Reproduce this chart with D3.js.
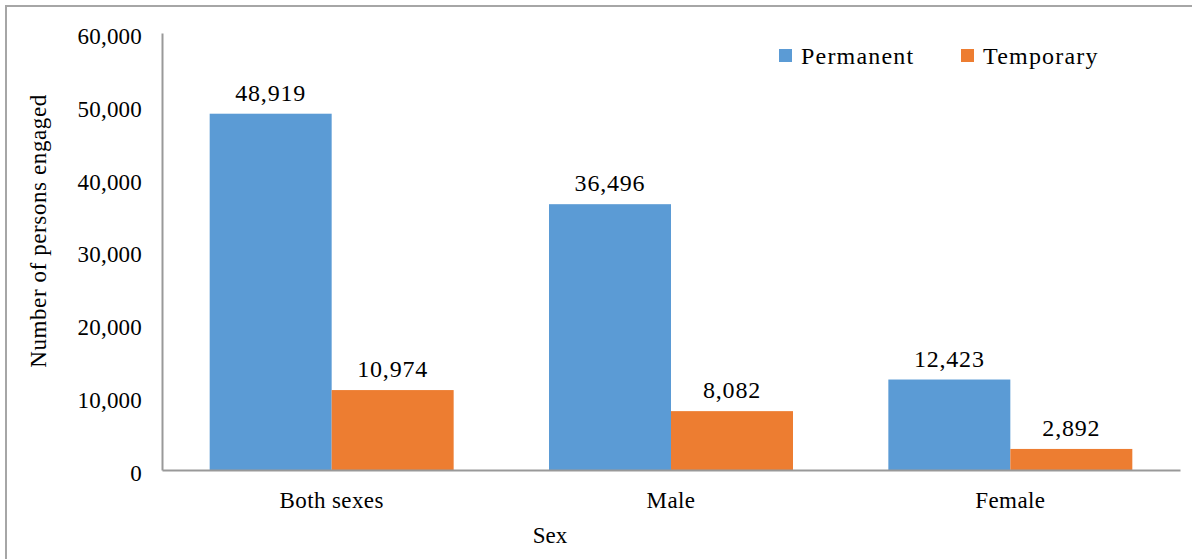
<!DOCTYPE html>
<html>
<head>
<meta charset="utf-8">
<script src="https://cdn.jsdelivr.net/npm/d3@7/dist/d3.min.js"></script>
<style>
  html, body { margin: 0; padding: 0; background: #fff; }
  svg { display: block; }
</style>
</head>
<body>
<svg id="chart" width="1192" height="559" style="font-family:'Liberation Serif', serif"></svg>
<script>
// Persons engaged by sex and type of engagement
const categories = ["Both sexes", "Male", "Female"];
const seriesNames = ["Permanent", "Temporary"];
const permanent = [48919, 36496, 12423];
const temporary = [10974, 8082, 2892];
const yTicks = [0, 10000, 20000, 30000, 40000, 50000, 60000];
const colors = ["#5B9BD5", "#ED7D31"];

const FONT = "'Liberation Serif', serif";
const svg = d3.select("#chart");
const plot = { left: 162, right: 1180, top: 33, bottom: 470 };

// outer frame (runs off the right and bottom edges)
svg.append("rect")
  .attr("x", 6).attr("y", 6).attr("width", 1220).attr("height", 600)
  .attr("fill", "none").attr("stroke", "#a6a6a6").attr("stroke-width", 2);

const x0 = d3.scaleBand()
  .domain(categories)
  .range([plot.left, plot.right])
  .paddingInner(0.281)
  .paddingOuter(0.1405);

const x1 = d3.scaleBand()
  .domain(seriesNames)
  .range([0, x0.bandwidth()]);

const y = d3.scaleLinear()
  .domain([0, 60000])
  .range([plot.bottom, plot.top]);

const fmt = d3.format(",");

const rows = categories.map((c, i) => ({
  category: c,
  values: [
    { key: seriesNames[0], value: permanent[i] },
    { key: seriesNames[1], value: temporary[i] }
  ]
}));

// bars
const groups = svg.append("g").selectAll("g")
  .data(rows).join("g")
  .attr("transform", d => `translate(${x0(d.category)},0)`);

groups.selectAll("rect")
  .data(d => d.values).join("rect")
  .attr("x", d => x1(d.key))
  .attr("y", d => y(d.value))
  .attr("width", x1.bandwidth())
  .attr("height", d => y(0) - y(d.value))
  .attr("fill", (d, i) => colors[i]);

// value labels
groups.selectAll("text.val")
  .data(d => d.values).join("text")
  .attr("class", "val")
  .attr("x", d => x1(d.key) + x1.bandwidth() / 2)
  .attr("y", d => y(d.value) - 13)
  .attr("text-anchor", "middle")
  .style("font-size", "24px")
  .style("letter-spacing", "0.8px")
  .text(d => fmt(d.value));

// y axis
const yAxis = svg.append("g")
  .attr("transform", `translate(${plot.left},0)`)
  .call(d3.axisLeft(y).tickValues(yTicks).tickFormat(fmt).tickSize(0).tickPadding(20));
yAxis.select(".domain").attr("stroke", "#999").attr("stroke-width", 2);
yAxis.selectAll("text")
  .attr("dy", "0.45em")
  .style("font-size", "23px")
  .style("letter-spacing", "0.2px");

// x axis
const xAxis = svg.append("g")
  .attr("transform", `translate(0,${plot.bottom})`)
  .call(d3.axisBottom(x0).tickSize(0).tickPadding(22));
xAxis.select(".domain").attr("stroke", "#999").attr("stroke-width", 2);
xAxis.selectAll("text")
  .attr("dy", "0.71em")
  .style("font-size", "23px")
  .style("letter-spacing", "0.4px");

// axis titles
svg.append("text")
  .attr("x", 550).attr("y", 543)
  .attr("text-anchor", "middle")
  .style("font-size", "23px")
  .text("Sex");

svg.append("text")
  .attr("transform", "translate(46,231) rotate(-90)")
  .attr("text-anchor", "middle")
  .style("font-size", "23px")
  .style("letter-spacing", "0.6px")
  .text("Number of persons engaged");

// legend
const legend = svg.append("g").selectAll("g")
  .data(seriesNames).join("g")
  .attr("transform", (d, i) => `translate(${779 + i * 182},49)`);
legend.append("rect")
  .attr("width", 13).attr("height", 13)
  .attr("fill", (d, i) => colors[i]);
legend.append("text")
  .attr("x", 22).attr("y", 15)
  .style("font-size", "24px")
  .style("letter-spacing", "1.2px")
  .text(d => d);

// one serif face for every label
svg.selectAll("text")
  .attr("font-family", null)
  .style("font-family", FONT)
  .attr("fill", "#000");
</script>
</body>
</html>
